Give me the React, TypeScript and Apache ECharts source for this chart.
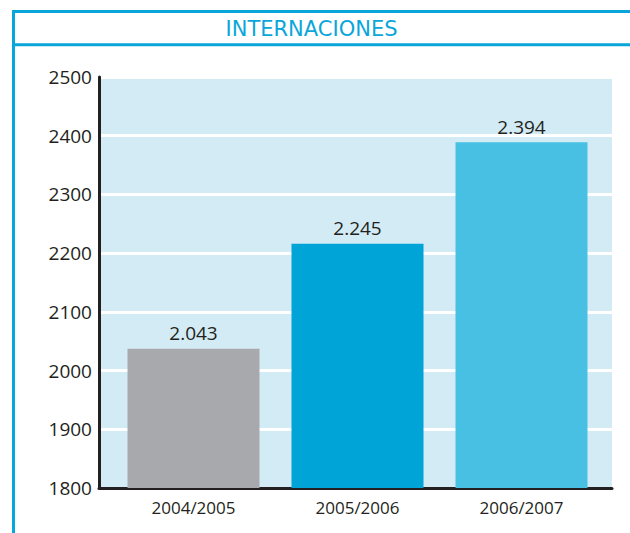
import React, { useEffect, useRef } from "react";
import * as echarts from "echarts";

const title = "INTERNACIONES";
const categories = ["2004/2005", "2005/2006", "2006/2007"];
// bar heights as drawn in the picture
const barValues = [2037, 2216, 2389];
// value labels printed above the bars
const valueLabels = ["2.043", "2.245", "2.394"];
const barColors = ["#a7a9ac", "#00a4d7", "#47c0e3"];
const yMin = 1800;
const yMax = 2500;
const yStep = 100;

const FRAME = "#0aa6da";
const DARK = "#231f20";
const FONT = "'Open Sans', sans-serif";

export default function App() {
  const ref = useRef<HTMLDivElement>(null);
  useEffect(() => {
    document.body.style.margin = "0";
    if (!ref.current) return;
    const chart = echarts.init(ref.current, null, { renderer: "svg" });
    chart.setOption({
      animation: false,
      backgroundColor: "#ffffff",
      graphic: [
        { type: "line", shape: { x1: 13.5, y1: 10, x2: 13.5, y2: 533 }, style: { stroke: FRAME, lineWidth: 3 } },
        { type: "line", shape: { x1: 12, y1: 11.5, x2: 630, y2: 11.5 }, style: { stroke: FRAME, lineWidth: 3 } },
        { type: "line", shape: { x1: 12, y1: 44.8, x2: 630, y2: 44.8 }, style: { stroke: FRAME, lineWidth: 3 } },
        {
          type: "text",
          x: 311.5,
          y: 29,
          style: {
            text: title,
            fill: FRAME,
            font: "21px 'DejaVu Sans', sans-serif",
            align: "center",
            verticalAlign: "middle",
          },
        },
      ],
      grid: [
        { left: 99, right: 18, top: 77, bottom: 45, show: true, backgroundColor: "#d3ebf4", borderWidth: 0 },
        { left: 111.5, right: 26.5, top: 77, bottom: 45 },
      ],
      xAxis: [
        {
          type: "category",
          gridIndex: 0,
          data: categories,
          axisLine: { show: true, lineStyle: { color: DARK, width: 3 } },
          axisTick: { show: false },
          axisLabel: { show: false },
          splitLine: { show: false },
        },
        {
          type: "category",
          gridIndex: 1,
          data: categories,
          axisLine: { show: false },
          axisTick: { show: false },
          axisLabel: { color: DARK, fontSize: 17, fontFamily: FONT, margin: 11 },
          splitLine: { show: false },
        },
      ],
      yAxis: [
        {
          type: "value",
          gridIndex: 0,
          min: yMin,
          max: yMax,
          interval: yStep,
          axisLine: { show: true, lineStyle: { color: DARK, width: 3 } },
          axisTick: { show: false },
          axisLabel: {
            color: DARK,
            fontSize: 19,
            fontFamily: FONT,
            margin: 7,
            padding: [0, 0, 9, 0],
            formatter: (v: number) => String(v),
          },
          splitLine: { show: true, lineStyle: { color: "#ffffff", width: 3 } },
        },
        {
          type: "value",
          gridIndex: 1,
          min: yMin,
          max: yMax,
          interval: yStep,
          show: false,
          splitLine: { show: false },
        },
      ],
      series: [
        {
          type: "bar",
          xAxisIndex: 1,
          yAxisIndex: 1,
          barWidth: 132,
          data: barValues.map((v, i) => ({ value: v, itemStyle: { color: barColors[i] } })),
          label: {
            show: true,
            position: "top",
            distance: 6,
            color: DARK,
            fontSize: 19,
            fontFamily: FONT,
            formatter: (p: any) => valueLabels[p.dataIndex],
          },
        },
      ],
    });
    return () => chart.dispose();
  }, []);
  return <div ref={ref} style={{ width: 630, height: 533 }} />;
}
